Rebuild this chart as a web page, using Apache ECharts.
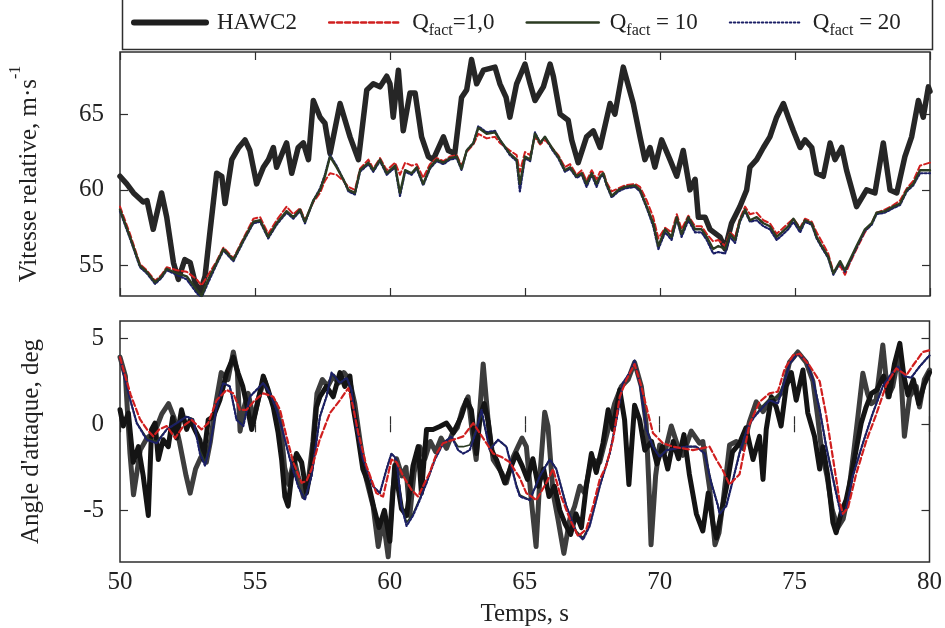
<!DOCTYPE html>
<html>
<head>
<meta charset="utf-8">
<script src="https://cdn.jsdelivr.net/npm/echarts@6/dist/echarts.min.js"></script>
<style>
  html, body { margin: 0; padding: 0; background: #fff; }
  #chart { width: 945px; height: 628px; }
</style>
</head>
<body>
<div id="chart"></div>
<script>
// ---- Relative speed (top panel), [time s, m/s] ----
const topHawc2 = [[50,60.9],[50.25,60.4],[50.5,59.8],[50.86,59.2],[51.0,59.3],[51.23,57.4],[51.54,59.8],[51.73,58.2],[51.98,55.2],[52.16,54.1],[52.4,55.4],[52.6,55.2],[52.78,53.9],[52.96,53.2],[53.15,54.3],[53.33,57.2],[53.58,61.1],[53.77,60.9],[53.89,59.1],[54.14,62.0],[54.4,62.8],[54.63,63.3],[54.81,62.6],[55.06,60.4],[55.31,61.5],[55.5,62.0],[55.68,62.8],[55.8,61.5],[56.05,62.6],[56.17,63.1],[56.36,61.1],[56.6,62.8],[56.79,63.1],[56.98,62.0],[57.16,65.9],[57.41,64.8],[57.59,64.4],[57.78,62.4],[58.15,65.7],[58.52,63.5],[58.83,62.0],[59.14,66.6],[59.38,67.0],[59.63,66.8],[59.88,67.5],[60.0,67.0],[60.12,64.8],[60.31,67.9],[60.49,63.9],[60.74,66.4],[60.93,66.4],[61.17,63.5],[61.42,62.2],[61.6,62.0],[61.98,63.5],[62.16,62.6],[62.4,62.4],[62.65,66.1],[62.84,66.6],[63.02,68.6],[63.21,67.0],[63.46,67.9],[63.89,68.1],[64.07,67.0],[64.3,66.1],[64.44,64.8],[64.69,67.0],[65.0,68.3],[65.19,67.0],[65.37,65.9],[65.68,66.8],[65.93,68.3],[66.05,67.5],[66.3,65.0],[66.6,64.6],[66.73,63.3],[66.97,61.8],[67.28,63.5],[67.53,63.9],[67.78,62.8],[68.15,65.7],[68.33,65.0],[68.64,68.1],[69.01,65.7],[69.26,63.5],[69.44,62.0],[69.63,62.8],[69.81,61.5],[70.06,63.3],[70.37,62.0],[70.62,60.9],[70.86,62.6],[71.11,60.0],[71.3,60.7],[71.42,58.2],[71.67,58.2],[71.85,57.4],[72.22,56.9],[72.41,56.1],[72.65,57.8],[72.96,58.9],[73.21,60.0],[73.33,61.5],[73.58,62.0],[73.83,62.8],[74.07,63.5],[74.32,64.8],[74.57,65.7],[74.75,64.8],[74.94,63.9],[75.19,62.8],[75.37,63.3],[75.62,62.8],[75.8,61.1],[76.05,60.9],[76.3,63.1],[76.48,62.0],[76.73,62.8],[76.91,61.3],[77.28,58.9],[77.65,60.0],[77.96,59.8],[78.27,63.1],[78.52,60.0],[78.77,59.8],[79.07,62.2],[79.32,63.5],[79.57,65.9],[79.75,64.8],[79.94,66.8],[80,66.5]];

const topTime = [50,50.37,50.74,50.99,51.3,51.54,51.73,52.1,52.47,52.84,53.02,53.27,53.58,53.83,54.2,54.57,54.94,55.19,55.49,55.8,56.17,56.42,56.67,56.85,57.16,57.41,57.59,57.78,58.02,58.27,58.46,58.7,58.89,59.2,59.38,59.63,59.88,60.19,60.37,60.56,60.8,60.99,61.23,61.48,61.73,61.98,62.22,62.47,62.65,62.84,63.09,63.27,63.58,63.89,64.07,64.44,64.69,64.81,65.0,65.19,65.37,65.56,65.74,65.99,66.23,66.48,66.67,66.91,67.1,67.28,67.47,67.65,67.78,67.9,68.02,68.21,68.46,68.7,69.07,69.26,69.51,69.75,69.94,70.19,70.43,70.62,70.8,71.05,71.3,71.54,71.73,71.97,72.16,72.41,72.59,72.78,72.96,73.15,73.33,73.58,73.83,74.07,74.32,74.51,74.75,74.94,75.19,75.37,75.62,75.8,75.99,76.23,76.42,76.67,76.85,77.04,77.28,77.59,77.84,78.02,78.33,78.64,78.89,79.14,79.38,79.63,80];

const topQ1 = [58.9,57.1,55.1,54.7,54.0,54.4,54.9,54.7,54.6,54.1,53.7,54.4,55.3,56.2,55.5,56.8,58.1,58.2,57.1,58.0,58.9,58.4,58.8,58.0,59.2,59.8,60.6,61.1,61.0,60.6,60.2,60.0,61.4,62.0,61.4,62.1,61.3,61.8,61.0,61.8,61.6,61.7,60.8,61.7,62.1,61.9,62.2,62.3,61.6,62.5,63.0,63.7,63.4,63.5,63.1,62.6,62.3,61.2,62.5,62.3,63.5,63.0,63.3,62.8,62.3,61.5,61.7,61.0,61.3,60.6,61.3,60.7,61.2,61.2,60.5,59.9,60.1,60.3,60.4,60.2,59.3,58.2,56.8,57.5,57.2,58.4,57.4,58.3,57.6,57.6,57.1,56.6,56.7,56.3,57.2,56.9,58.1,58.9,58.4,58.5,58.0,57.8,57.1,57.4,57.8,58.1,57.5,58.1,57.9,57.2,56.6,55.8,54.6,55.0,54.4,55.2,56.1,57.2,57.8,58.5,58.7,59.0,59.3,60.1,60.6,61.6,61.8];

const topQ10 = [58.7,56.9,55.0,54.6,53.9,54.3,54.8,54.5,54.3,53.4,53.0,54.1,55.2,56.1,55.4,56.7,57.9,58.0,56.9,57.8,58.6,58.2,58.7,57.9,59.3,60.0,60.9,62.2,61.5,60.7,60.0,59.8,61.3,61.8,61.3,62.0,61.1,61.6,59.8,61.3,61.1,61.5,60.4,61.5,62.0,61.8,62.1,62.2,61.4,62.6,63.1,64.1,63.7,63.8,63.3,62.4,62.0,60.4,62.2,62.0,63.7,63.1,63.5,62.8,62.2,61.3,61.5,60.9,61.1,60.4,61.1,60.4,60.9,61.1,60.4,59.6,60.0,60.2,60.3,60.0,58.9,57.8,56.3,57.4,56.9,58.2,57.1,58.2,57.4,57.4,56.9,56.1,56.3,56.1,57.1,56.7,58.0,58.7,58.0,58.2,57.8,57.6,56.9,57.2,57.6,58.1,57.4,58.0,57.8,56.9,56.3,55.6,54.5,55.3,54.7,55.4,56.3,57.4,57.8,58.5,58.6,58.9,59.1,60.0,60.4,61.3,61.3];

const topQ20 = [58.6,56.8,54.9,54.5,53.8,54.2,54.7,54.4,54.1,53.2,52.9,53.9,55.1,56.0,55.3,56.6,57.8,57.9,56.8,57.7,58.5,58.1,58.6,57.8,59.3,60.1,61.0,62.3,61.6,60.7,59.9,59.7,61.2,61.7,61.2,61.9,61.0,61.5,59.6,61.2,61.0,61.4,60.3,61.4,61.9,61.7,62.0,62.1,61.3,62.6,63.1,64.2,63.8,63.9,63.3,62.3,61.9,59.9,62.1,61.9,63.8,63.1,63.5,62.7,62.1,61.2,61.4,60.8,61.0,60.2,61.0,60.2,60.8,61.0,60.3,59.5,59.9,60.1,60.2,59.9,58.8,57.6,56.1,57.2,56.7,58.1,56.9,58.0,57.2,57.2,56.7,55.8,55.9,55.8,56.9,56.5,57.9,58.6,57.9,58.0,57.6,57.4,56.7,57.0,57.4,57.9,57.2,57.9,57.7,56.8,56.2,55.5,54.4,55.2,54.6,55.3,56.2,57.3,57.7,58.4,58.5,58.8,59.0,59.9,60.3,61.1,61.1];

// ---- Angle of attack (bottom panel), [time s, deg] ----
const botHawc2 = [[50,0.84],[50.12,-0.1],[50.31,0.65],[50.49,-2.2],[50.68,-1.3],[50.86,-3.0],[51.05,-5.3],[51.17,-0.3],[51.3,0.07],[51.42,-2.05],[51.6,-0.9],[51.79,-1.3],[51.95,0.4],[52.1,-0.8],[52.28,0.84],[52.47,-0.3],[52.6,0.26],[52.8,-0.4],[52.96,-0.9],[53.09,-2.05],[53.27,0.26],[53.46,0.45],[53.7,1.4],[53.95,2.96],[54.2,3.9],[54.38,2.96],[54.55,2.2],[54.69,1.2],[54.88,-0.3],[55.12,1.4],[55.31,2.8],[55.49,2.0],[55.68,1.0],[55.86,-0.5],[55.99,-2.05],[56.11,-4.2],[56.23,-4.75],[56.36,-3.0],[56.54,-1.7],[56.73,-2.2],[56.91,-4.0],[57.1,-2.4],[57.28,1.0],[57.41,1.6],[57.65,2.2],[57.9,1.6],[58.15,3.0],[58.33,2.2],[58.52,2.8],[58.64,1.0],[58.8,-0.5],[59.0,-2.6],[59.2,-3.4],[59.4,-4.8],[59.6,-6.0],[59.8,-5.0],[60.0,-6.8],[60.18,-2.4],[60.43,-4.9],[60.62,-5.3],[60.86,-2.4],[61.05,-1.3],[61.17,-4.0],[61.36,-0.3],[61.6,-0.3],[61.85,-0.13],[62.1,0.07],[62.35,-0.5],[62.65,0.45],[62.84,1.4],[63.02,0.84],[63.21,-1.7],[63.35,0.5],[63.5,1.2],[63.64,0.2],[63.77,-1.5],[63.95,-2.05],[64.26,-3.4],[64.51,-2.4],[64.69,-1.7],[64.9,-2.4],[65.1,-3.2],[65.3,-2.0],[65.5,-3.6],[65.7,-2.6],[65.9,-4.2],[66.1,-3.6],[66.3,-5.0],[66.5,-5.8],[66.7,-6.4],[66.9,-5.2],[67.1,-6.0],[67.28,-3.6],[67.47,-1.7],[67.65,-2.8],[67.9,-1.1],[68.09,0.84],[68.27,-0.3],[68.52,2.0],[68.7,0.26],[68.86,-3.5],[69.07,1.1],[69.26,0.26],[69.45,-1.5],[69.7,-1.0],[69.9,-2.3],[70.1,-1.3],[70.3,-2.6],[70.5,-1.0],[70.7,-2.0],[70.9,-0.6],[71.1,-2.9],[71.36,-5.2],[71.6,-6.2],[71.8,-4.0],[72.0,-6.0],[72.1,-6.6],[72.3,-5.0],[72.47,-3.7],[72.7,-1.6],[72.96,-1.1],[73.2,-0.2],[73.46,-2.05],[73.7,-0.7],[73.83,-3.2],[73.95,-0.3],[74.14,1.6],[74.32,1.0],[74.5,-0.1],[74.69,2.2],[74.88,3.0],[75.06,1.4],[75.31,3.15],[75.49,0.65],[75.74,-0.7],[75.93,-2.6],[76.05,-1.3],[76.23,-3.0],[76.42,-5.7],[76.54,-6.3],[76.73,-5.1],[76.91,-4.4],[77.1,-3.0],[77.28,-1.5],[77.47,0.07],[77.65,1.0],[77.85,1.8],[78.05,2.0],[78.3,2.8],[78.5,1.6],[78.7,3.5],[78.9,4.7],[79.05,2.8],[79.2,1.7],[79.4,2.6],[79.6,1.2],[79.8,2.3],[80,3.0]];

const botHawc2Bis = [[50,3.9],[50.2,2.8],[50.37,-1.7],[50.5,-4.1],[50.75,-1.5],[51.0,-0.8],[51.3,-0.4],[51.55,0.6],[51.8,1.2],[52.0,0.4],[52.2,-1.0],[52.45,-3.0],[52.6,-4.0],[52.8,-2.6],[53.0,-1.9],[53.2,-2.2],[53.35,-1.0],[53.55,1.2],[53.75,3.0],[54.0,2.6],[54.2,4.2],[54.35,3.0],[54.45,-0.4],[54.6,1.0],[54.75,1.8],[54.95,0.3],[55.15,1.6],[55.35,2.6],[55.55,1.6],[55.75,1.2],[55.95,0.0],[56.1,-2.5],[56.25,-3.5],[56.45,-2.0],[56.6,-3.0],[56.8,-4.2],[57.0,-3.0],[57.15,-1.0],[57.3,1.8],[57.5,2.6],[57.7,2.2],[57.9,2.8],[58.1,2.4],[58.3,3.0],[58.5,2.6],[58.7,1.2],[58.9,-1.0],[59.13,-3.2],[59.38,-4.75],[59.57,-7.1],[59.75,-5.5],[59.94,-7.7],[60.1,-4.0],[60.25,-2.0],[60.45,-3.0],[60.6,-2.5],[60.74,-5.3],[60.9,-2.8],[61.11,-1.3],[61.3,-2.0],[61.5,-1.0],[61.7,-1.6],[61.9,-0.8],[62.1,-1.4],[62.3,-0.6],[62.5,-0.2],[62.7,0.9],[62.9,1.6],[63.05,-0.4],[63.2,-2.05],[63.46,3.5],[63.64,0.26],[63.83,-2.05],[64.14,-2.8],[64.32,-3.4],[64.57,-1.9],[64.75,-1.3],[64.9,-0.8],[65.06,-1.3],[65.25,-4.5],[65.42,-7.1],[65.58,-2.6],[65.74,0.7],[65.86,-0.1],[66.05,-4.0],[66.23,-5.5],[66.45,-7.5],[66.67,-5.5],[66.85,-4.75],[67.04,-3.6],[67.22,-4.0],[67.47,-2.05],[67.78,-2.2],[68.09,-0.3],[68.33,1.2],[68.58,2.2],[68.83,2.6],[69.07,3.6],[69.32,2.2],[69.5,0.0],[69.6,-3.5],[69.68,-7.0],[69.85,-3.0],[70.0,-1.2],[70.2,-1.6],[70.43,-0.1],[70.68,-1.3],[70.86,-1.8],[71.17,-0.4],[71.48,-1.1],[71.6,-1.0],[71.85,-3.7],[72.05,-7.0],[72.2,-6.3],[72.35,-4.5],[72.59,-1.2],[72.84,-1.0],[73.09,-1.4],[73.33,0.16],[73.58,1.3],[73.83,0.74],[74.07,1.3],[74.32,1.5],[74.57,1.9],[74.81,3.6],[75.12,4.2],[75.43,3.6],[75.68,2.5],[75.85,0.5],[76.0,-1.5],[76.2,-3.0],[76.4,-5.0],[76.6,-6.0],[76.8,-5.5],[77.0,-4.0],[77.2,-1.5],[77.35,0.5],[77.53,2.96],[77.7,1.8],[77.84,1.2],[78.02,1.4],[78.27,4.6],[78.46,1.6],[78.64,2.2],[78.89,4.3],[79.07,-0.7],[79.26,1.6],[79.51,2.2],[79.63,1.0],[79.81,2.6],[80,3.15]];

const botQ1 = [[50,3.9],[50.12,3.2],[50.4,1.7],[50.74,0.3],[51.0,-0.3],[51.23,-0.7],[51.45,-0.3],[51.73,-0.1],[52.04,-0.8],[52.35,-0.1],[52.65,0.26],[53.02,-0.3],[53.27,0.07],[53.58,1.4],[53.95,2.0],[54.2,1.8],[54.44,0.84],[54.69,0.84],[55.0,1.4],[55.31,1.8],[55.68,1.6],[55.93,0.84],[56.17,-0.7],[56.42,-2.2],[56.73,-3.4],[56.91,-3.3],[57.1,-2.6],[57.4,-0.9],[57.78,0.65],[58.15,1.4],[58.46,2.1],[58.64,1.0],[58.83,-0.5],[59.13,-2.4],[59.5,-4.0],[59.75,-4.2],[60.06,-2.05],[60.25,-2.2],[60.49,-3.0],[60.8,-3.8],[61.05,-4.2],[61.23,-3.6],[61.48,-2.8],[61.73,-1.7],[61.97,-1.1],[62.35,-0.9],[62.72,-0.7],[63.09,0.07],[63.33,-0.5],[63.58,-1.1],[63.83,-1.7],[64.14,-1.9],[64.44,-2.2],[64.81,-3.1],[65.06,-4.0],[65.43,-4.4],[65.8,-3.4],[66.05,-2.6],[66.3,-4.0],[66.67,-5.5],[66.98,-6.5],[67.28,-6.1],[67.53,-4.75],[67.78,-3.2],[68.02,-2.4],[68.27,-0.9],[68.52,1.6],[68.77,2.6],[69.07,3.5],[69.32,2.2],[69.51,1.0],[69.75,-0.5],[70.12,-1.1],[70.49,-1.3],[70.86,-1.4],[71.23,-1.5],[71.54,-1.4],[71.85,-1.3],[72.1,-2.05],[72.35,-2.7],[72.59,-3.5],[72.96,-2.9],[73.33,0.0],[73.7,1.3],[74.07,1.8],[74.38,1.9],[74.63,3.2],[74.94,4.0],[75.19,4.1],[75.56,3.4],[75.93,2.5],[76.17,0.55],[76.42,-1.95],[76.67,-4.46],[76.79,-5.2],[76.98,-4.85],[77.28,-2.9],[77.65,-1.0],[78.02,0.55],[78.4,2.3],[78.77,3.25],[79.14,2.85],[79.38,3.4],[79.75,4.2],[80,4.3]];

const botQ10 = [[50,3.9],[50.12,3.0],[50.4,1.3],[50.62,0.1],[50.99,-0.8],[51.36,-1.0],[51.73,-0.3],[52.1,0.1],[52.47,0.45],[52.72,0.3],[52.96,-1.5],[53.15,-2.2],[53.33,-1.2],[53.58,1.0],[53.83,2.4],[54.07,2.2],[54.32,0.3],[54.57,0.0],[54.81,1.6],[55.06,2.0],[55.31,2.4],[55.56,1.8],[55.8,0.84],[56.05,-0.5],[56.3,-2.0],[56.6,-3.5],[56.85,-4.3],[57.1,-3.0],[57.41,0.45],[57.65,1.6],[57.84,2.9],[58.15,2.4],[58.4,2.7],[58.58,2.0],[58.77,-0.3],[59.01,-2.0],[59.38,-3.6],[59.63,-4.0],[59.88,-2.6],[60.06,-1.7],[60.25,-2.0],[60.43,-4.6],[60.62,-5.7],[60.86,-5.2],[61.11,-4.3],[61.36,-3.4],[61.67,-2.0],[61.98,-1.1],[62.28,-0.7],[62.53,-1.3],[62.72,-1.3],[62.96,-1.2],[63.2,-0.3],[63.4,0.6],[63.7,-1.4],[64.01,-0.9],[64.32,-1.3],[64.69,-3.5],[64.82,-4.1],[65.19,-4.4],[65.56,-3.0],[65.93,-2.0],[66.17,-2.6],[66.54,-4.7],[66.91,-6.2],[67.16,-6.6],[67.41,-5.8],[67.78,-3.6],[68.15,-1.7],[68.4,0.3],[68.64,2.4],[68.89,3.0],[69.07,3.7],[69.26,2.4],[69.51,-0.2],[69.75,-1.2],[70.0,-1.8],[70.25,-1.5],[70.62,-1.4],[70.99,-1.3],[71.36,-1.3],[71.67,-1.7],[71.91,-3.3],[72.16,-4.7],[72.22,-5.1],[72.47,-4.7],[72.72,-3.2],[72.96,-1.6],[73.27,-0.1],[73.52,0.5],[73.83,1.1],[74.07,1.5],[74.38,1.6],[74.57,2.3],[74.81,3.5],[75.12,4.1],[75.43,3.7],[75.68,2.6],[75.93,0.9],[76.17,-1.2],[76.48,-3.5],[76.73,-5.2],[76.91,-4.9],[77.16,-3.0],[77.53,-1.1],[77.9,0.65],[78.27,2.2],[78.52,2.8],[78.83,3.35],[79.07,2.8],[79.32,2.7],[79.63,3.35],[79.94,3.9],[80,4.0]];

const botQ20 = [[50,3.9],[50.12,3.0],[50.4,1.3],[50.62,0.07],[50.99,-0.9],[51.36,-1.1],[51.73,-0.3],[52.1,0.07],[52.47,0.45],[52.72,0.26],[52.96,-1.7],[53.15,-2.4],[53.33,-1.3],[53.58,1.0],[53.83,2.4],[54.07,2.2],[54.32,0.26],[54.57,-0.1],[54.81,1.6],[55.06,2.0],[55.31,2.4],[55.56,1.8],[55.8,0.84],[56.05,-0.5],[56.3,-2.05],[56.6,-3.6],[56.85,-4.4],[57.1,-3.0],[57.41,0.45],[57.65,1.6],[57.84,3.0],[58.15,2.4],[58.4,2.7],[58.58,2.0],[58.77,-0.3],[59.01,-2.05],[59.38,-3.6],[59.63,-4.0],[59.88,-2.6],[60.06,-1.7],[60.25,-2.05],[60.43,-4.75],[60.62,-5.9],[60.86,-5.3],[61.11,-4.4],[61.36,-3.4],[61.67,-2.05],[61.98,-1.1],[62.28,-0.7],[62.53,-1.5],[62.72,-1.7],[62.96,-1.5],[63.2,-0.4],[63.4,0.84],[63.7,-1.5],[64.01,-0.9],[64.32,-1.3],[64.69,-3.6],[64.82,-4.2],[65.19,-4.4],[65.56,-3.0],[65.93,-2.05],[66.17,-2.6],[66.54,-4.75],[66.91,-6.3],[67.16,-6.7],[67.41,-5.9],[67.78,-3.6],[68.15,-1.7],[68.4,0.26],[68.64,2.4],[68.89,3.0],[69.07,3.7],[69.26,2.4],[69.51,-0.3],[69.75,-1.3],[70.0,-1.9],[70.25,-1.5],[70.62,-1.4],[70.99,-1.3],[71.36,-1.3],[71.67,-1.7],[71.91,-3.4],[72.16,-4.75],[72.22,-5.2],[72.47,-4.75],[72.72,-3.2],[72.96,-1.7],[73.27,-0.13],[73.52,0.45],[73.83,1.0],[74.07,1.4],[74.38,1.2],[74.57,2.2],[74.81,3.5],[75.12,4.1],[75.43,3.7],[75.68,2.6],[75.93,0.84],[76.17,-1.3],[76.48,-3.6],[76.73,-5.3],[76.91,-4.9],[77.16,-3.0],[77.53,-1.1],[77.9,0.65],[78.27,2.2],[78.52,2.8],[78.83,3.35],[79.07,2.8],[79.32,2.7],[79.63,3.35],[79.94,3.9],[80,4.0]];

// ---- Axis ticks and legend names ----
const speedTicks = [55, 60, 65];
const angleTicks = [-5, 0, 5];
const seriesNames = ['HAWC2', 'Q1', 'Q10', 'Q20'];
const legendLabels = {
  'HAWC2': '{g|}{t|HAWC2}',
  'Q1': '{g|}{t|Q}{s|fact}{t|=1,0}',
  'Q10': '{g|}{t|Q}{s|fact}{t| = 10}',
  'Q20': '{g|}{t|Q}{s|fact}{t| = 20}'
};

const serif = '"Liberation Serif", "DejaVu Serif", serif';
const frameColor = '#2e2e2e';
const axisFont = 25;

function zip(t, v) { return t.map((x, i) => [x, v[i]]); }

function xAxisFor(grid, pos, labels) {
  return {
    type: 'value', gridIndex: grid, position: pos,
    min: 50, max: 80, interval: 5,
    axisLine: { show: false },
    axisTick: { show: true, inside: true, length: 8, lineStyle: { color: frameColor, width: 1.2 } },
    axisLabel: { show: labels, color: '#222', fontFamily: serif, fontSize: axisFont, margin: 8 },
    splitLine: { show: false }
  };
}

function yAxisFor(grid, pos, min, max, ticks, labels) {
  return {
    type: 'value', gridIndex: grid, position: pos, min: min, max: max,
    axisLine: { show: false },
    axisTick: { show: true, inside: true, length: 8, customValues: ticks, lineStyle: { color: frameColor, width: 1.2 } },
    axisLabel: { show: labels, customValues: ticks, color: '#222', fontFamily: serif, fontSize: axisFont, margin: 16 },
    splitLine: { show: false }
  };
}

const chart = echarts.init(document.getElementById('chart'), null, { renderer: 'canvas' });

const xAxes = [
  xAxisFor(0, 'bottom', false),
  xAxisFor(0, 'top', false),
  Object.assign(xAxisFor(1, 'bottom', true), {
    name: 'Temps, s', nameLocation: 'middle', nameGap: 40,
    nameTextStyle: { color: '#222', fontFamily: serif, fontSize: axisFont }
  }),
  xAxisFor(1, 'top', false)
];

const yAxes = [
  Object.assign(yAxisFor(0, 'left', 53, 69.1, speedTicks, true), {
    name: '{a|Vitesse relative, m·s}{b|-1}', nameLocation: 'middle', nameGap: 78,
    nameTextStyle: {
      color: '#222', fontFamily: serif,
      rich: {
        a: { fontFamily: serif, fontSize: axisFont, color: '#222', lineHeight: 34, verticalAlign: 'bottom' },
        b: { fontFamily: serif, fontSize: 16, color: '#222', verticalAlign: 'top' }
      }
    }
  }),
  yAxisFor(0, 'right', 53, 69.1, speedTicks, false),
  Object.assign(yAxisFor(1, 'left', -8, 6, angleTicks, true), {
    name: "Angle d'attaque, deg", nameLocation: 'middle', nameGap: 76,
    nameTextStyle: { color: '#222', fontFamily: serif, fontSize: axisFont }
  }),
  yAxisFor(1, 'right', -8, 6, angleTicks, false)
];

function line(name, data, xi, yi, color, width, type, z) {
  return {
    name: name, type: 'line', data: data, xAxisIndex: xi, yAxisIndex: yi,
    showSymbol: false, symbol: 'none', smooth: false, animation: false, z: z,
    lineStyle: { color: color, width: width, type: type, join: 'round', cap: 'round' },
    itemStyle: { color: color }
  };
}

const hawcColor = '#262626';
const bisColor = '#3d3d3d';
const q1Color = '#d01f1f';
const q10Color = '#2b3b22';
const q20Color = '#1b1f66';

const legendData = [
  { name: 'HAWC2', itemStyle: { opacity: 0 }, lineStyle: { color: '#1e1e1e', width: 6, type: 'solid' } },
  { name: 'Q1', itemStyle: { opacity: 0 }, lineStyle: { color: q1Color, width: 2.5, type: [5, 3] } },
  { name: 'Q10', itemStyle: { opacity: 0 }, lineStyle: { color: q10Color, width: 2.5, type: 'solid' } },
  { name: 'Q20', itemStyle: { opacity: 0 }, lineStyle: { color: q20Color, width: 2, type: [1.5, 2.5] } }
];

chart.setOption({
  backgroundColor: '#ffffff',
  animation: false,
  grid: [
    { left: 120, right: 15, top: 52, height: 244, show: true, borderColor: frameColor, borderWidth: 1.5, backgroundColor: 'transparent' },
    { left: 120, right: 15, top: 321, height: 241, show: true, borderColor: frameColor, borderWidth: 1.5, backgroundColor: 'transparent' }
  ],
  graphic: [{
    type: 'rect', left: 120, top: -4, silent: true,
    shape: { width: 810, height: 51 },
    style: { fill: 'none', stroke: frameColor, lineWidth: 1.5 }
  }],
  legend: {
    data: legendData,
    left: 126, top: 6,
    itemWidth: 72, itemHeight: 14, itemGap: 31,
    formatter: name => legendLabels[name],
    textStyle: {
      color: '#222', fontFamily: serif, fontSize: 23,
      rich: {
        g: { width: 6 },
        t: { fontFamily: serif, fontSize: 23, color: '#222', lineHeight: 32, verticalAlign: 'middle' },
        s: { fontFamily: serif, fontSize: 16, color: '#222', verticalAlign: 'bottom' }
      }
    }
  },
  xAxis: xAxes,
  yAxis: yAxes,
  series: [
    line('HAWC2', topHawc2, 0, 0, hawcColor, 5.5, 'solid', 5),
    line('Q1', zip(topTime, topQ1), 0, 0, q1Color, 2, [6, 3], 6),
    line('Q20', zip(topTime, topQ20), 0, 0, q20Color, 2.2, [2, 2], 7),
    line('Q10', zip(topTime, topQ10), 0, 0, q10Color, 2.4, 'solid', 8),

    line('HAWC2 bis', botHawc2Bis, 2, 2, bisColor, 5, 'solid', 4),
    line('HAWC2', botHawc2, 2, 2, '#141414', 5, 'solid', 5),
    line('Q1', botQ1, 2, 2, q1Color, 2.2, [6, 3], 8),
    line('Q20', botQ20, 2, 2, q20Color, 2.2, [2, 2], 7),
    line('Q10', botQ10, 2, 2, q10Color, 1.6, 'solid', 6)
  ]
});
</script>
</body>
</html>
